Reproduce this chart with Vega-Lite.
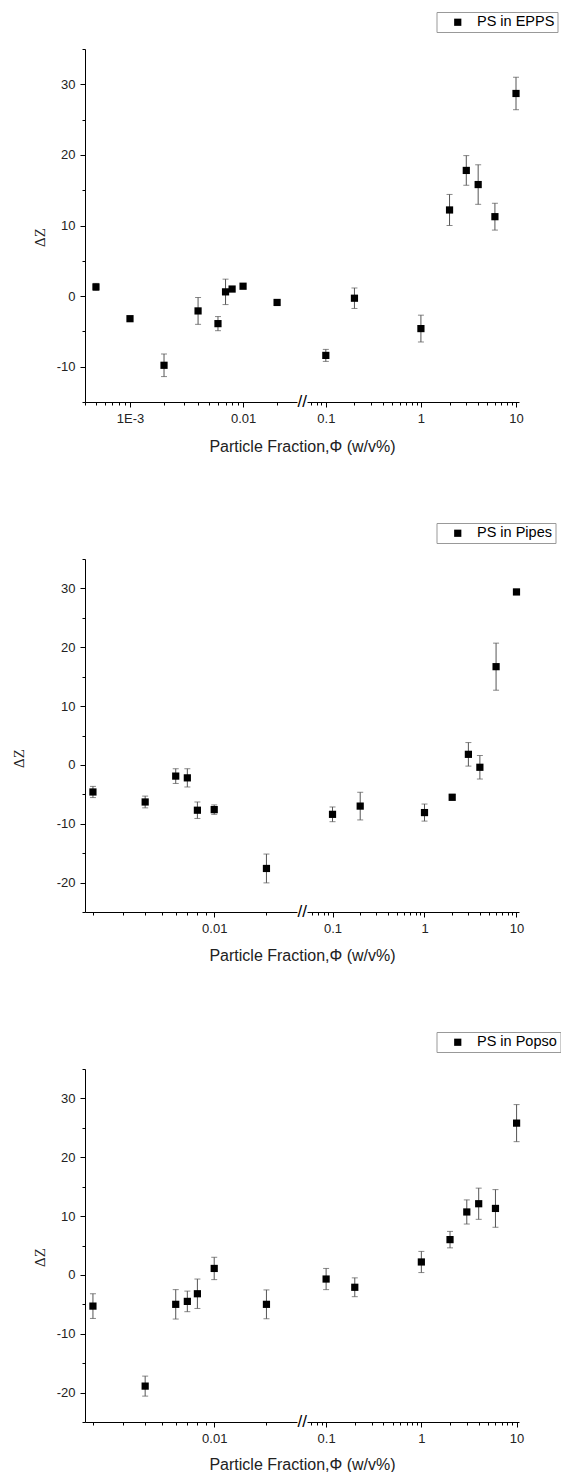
{
  "$schema": "https://vega.github.io/schema/vega-lite/v6.json",
  "autosize": {"type": "pad"},
  "padding": {"left": 11, "top": 11, "right": 0, "bottom": 0},
  "background": "white",
  "config": {
    "view": {"stroke": null},
    "font": "Liberation Sans",
    "axis": {
      "domainColor": "black", "domainWidth": 1, "tickColor": "black", "tickWidth": 1,
      "labelFont": "Liberation Sans", "labelFontSize": 13, "labelColor": "#222",
      "labelPadding": 5, "labelFlush": false, "labelOverlap": false, "grid": false,
      "titleFont": "Liberation Sans", "titleFontWeight": "normal", "titleColor": "#222"
    }
  },
  "datasets": {
    "epps_lo": [
      {"phi": 0.0005, "dz": 1.3, "err": 0.5},
      {"phi": 0.001, "dz": -3.2, "err": 0.3},
      {"phi": 0.002, "dz": -9.8, "err": 1.6},
      {"phi": 0.004, "dz": -2.1, "err": 1.9},
      {"phi": 0.006, "dz": -3.9, "err": 1.0},
      {"phi": 0.007, "dz": 0.6, "err": 1.8},
      {"phi": 0.008, "dz": 1.0, "err": 0.3},
      {"phi": 0.01, "dz": 1.4, "err": 0.3},
      {"phi": 0.02, "dz": -0.9, "err": 0.3}
    ],
    "epps_hi": [
      {"phi": 0.1, "dz": -8.4, "err": 0.85, "series": "PS in EPPS"},
      {"phi": 0.2, "dz": -0.3, "err": 1.45, "series": "PS in EPPS"},
      {"phi": 1, "dz": -4.6, "err": 1.9, "series": "PS in EPPS"},
      {"phi": 2, "dz": 12.2, "err": 2.2, "series": "PS in EPPS"},
      {"phi": 3, "dz": 17.8, "err": 2.1, "series": "PS in EPPS"},
      {"phi": 4, "dz": 15.8, "err": 2.8, "series": "PS in EPPS"},
      {"phi": 6, "dz": 11.25, "err": 1.9, "series": "PS in EPPS"},
      {"phi": 10, "dz": 28.7, "err": 2.3, "series": "PS in EPPS"}
    ],
    "pipes_lo": [
      {"phi": 0.002, "dz": -4.6, "err": 0.95},
      {"phi": 0.004, "dz": -6.3, "err": 1.0},
      {"phi": 0.006, "dz": -1.9, "err": 1.25},
      {"phi": 0.007, "dz": -2.2, "err": 1.55},
      {"phi": 0.008, "dz": -7.7, "err": 1.4},
      {"phi": 0.01, "dz": -7.6, "err": 0.8},
      {"phi": 0.02, "dz": -17.6, "err": 2.45}
    ],
    "pipes_hi": [
      {"phi": 0.1, "dz": -8.4, "err": 1.25, "series": "PS in Pipes"},
      {"phi": 0.2, "dz": -7.0, "err": 2.35, "series": "PS in Pipes"},
      {"phi": 1, "dz": -8.1, "err": 1.45, "series": "PS in Pipes"},
      {"phi": 2, "dz": -5.5, "err": 0.5, "series": "PS in Pipes"},
      {"phi": 3, "dz": 1.8, "err": 2.0, "series": "PS in Pipes"},
      {"phi": 4, "dz": -0.4, "err": 2.0, "series": "PS in Pipes"},
      {"phi": 6, "dz": 16.7, "err": 4.0, "series": "PS in Pipes"},
      {"phi": 10, "dz": 29.4, "err": 0.45, "series": "PS in Pipes"}
    ],
    "popso_lo": [
      {"phi": 0.002, "dz": -5.3, "err": 2.1},
      {"phi": 0.004, "dz": -18.9, "err": 1.7},
      {"phi": 0.006, "dz": -5.0, "err": 2.5},
      {"phi": 0.007, "dz": -4.5, "err": 1.75},
      {"phi": 0.008, "dz": -3.2, "err": 2.5},
      {"phi": 0.01, "dz": 1.1, "err": 1.9},
      {"phi": 0.02, "dz": -5.0, "err": 2.45}
    ],
    "popso_hi": [
      {"phi": 0.1, "dz": -0.7, "err": 1.8, "series": "PS in Popso"},
      {"phi": 0.2, "dz": -2.1, "err": 1.6, "series": "PS in Popso"},
      {"phi": 1, "dz": 2.2, "err": 1.8, "series": "PS in Popso"},
      {"phi": 2, "dz": 6.0, "err": 1.4, "series": "PS in Popso"},
      {"phi": 3, "dz": 10.7, "err": 2.05, "series": "PS in Popso"},
      {"phi": 4, "dz": 12.1, "err": 2.65, "series": "PS in Popso"},
      {"phi": 6, "dz": 11.3, "err": 3.2, "series": "PS in Popso"},
      {"phi": 10, "dz": 25.8, "err": 3.15, "series": "PS in Popso"}
    ]
  },
  "spacing": 510,
  "bounds": "flush",
  "resolve": {"scale": {"x": "independent", "y": "independent", "shape": "independent"}, "legend": {"shape": "independent"}},
  "vconcat": [
    {
      "spacing": 10,
      "bounds": "flush",
      "resolve": {"scale": {"x": "independent", "y": "independent", "shape": "independent"}, "legend": {"shape": "independent"}},
      "hconcat": [
        {
          "width": 212, "height": 353,
          "data": {"name": "epps_lo"},
          "encoding": {
            "x": {"field": "phi", "type": "quantitative",
              "scale": {"type": "log", "domain": [0.0004, 0.03], "nice": false},
              "axis": {"values": [0.0004,0.0005,0.0006,0.0007,0.0008,0.0009,0.001,0.002,0.003,0.004,0.005,0.006,0.007,0.008,0.009,0.01,0.02],
                "labelExpr": "datum.value === 0.001 ? '1E-3' : datum.value === 0.01 ? '0.01' : ''",
                "tickSize": {"condition": {"test": "datum.value === 0.001 || datum.value === 0.01", "value": 5}, "value": 3},
                "title": "Particle Fraction,Φ (w/v%)", "titleFontSize": 16, "titleX": 217, "titleY": 49, "titleAlign": "center", "titleBaseline": "alphabetic", "titleAnchor": null}},
            "y": {"field": "dz", "type": "quantitative",
              "scale": {"domain": [-15, 35], "nice": false, "zero": false},
              "axis": {"values": [-15,-10,-5,0,5,10,15,20,25,30,35],
                "labelExpr": "datum.value % 10 === 0 ? '' + datum.value : ''",
                "tickSize": {"condition": {"test": "datum.value % 10 === 0", "value": 5}, "value": 3},
                "title": "ΔZ", "titleFont": "Liberation Serif", "titleFontSize": 15, "titleX": -46, "titleY": 188, "titleBaseline": "middle", "titleAlign": "center"}}
          },
          "layer": [
            {"mark": {"type": "errorbar", "color": "#555", "thickness": 1, "ticks": {"size": 6, "color": "#555"}},
             "encoding": {"yError": {"field": "err"}}},
            {"mark": {"type": "point", "shape": "square", "filled": true, "size": 52, "color": "black", "opacity": 1}}
          ]
        },
        {
          "width": 212, "height": 353,
          "layer": [
            {"data": {"name": "epps_hi"},
             "mark": {"type": "errorbar", "color": "#555", "thickness": 1, "ticks": {"size": 6, "color": "#555"}},
             "encoding": {
               "x": {"field": "phi", "type": "quantitative", "scale": {"type": "log", "domain": [0.0634, 10.75], "nice": false},
                 "axis": {"values": [0.07,0.08,0.09,0.1,0.2,0.3,0.4,0.5,0.6,0.7,0.8,0.9,1,2,3,4,5,6,7,8,9,10],
                   "labelExpr": "datum.value === 0.1 ? '0.1' : datum.value === 1 ? '1' : datum.value === 10 ? '10' : ''",
                   "tickSize": {"condition": {"test": "datum.value === 0.1 || datum.value === 1 || datum.value === 10", "value": 5}, "value": 3},
                   "title": null}},
               "y": {"field": "dz", "type": "quantitative", "scale": {"domain": [-15, 35], "nice": false, "zero": false}, "axis": null},
               "yError": {"field": "err"}}},
            {"data": {"name": "epps_hi"},
             "mark": {"type": "point", "shape": "square", "filled": true, "size": 52, "color": "black", "opacity": 1},
             "encoding": {
               "x": {"field": "phi", "type": "quantitative"},
               "y": {"field": "dz", "type": "quantitative"},
               "shape": {"field": "series", "type": "nominal", "scale": {"range": ["square"]},
                 "legend": {"orient": "none", "legendX": 129.5, "legendY": -37, "title": null, "strokeColor": "#999", "fillColor": "white", "padding": 3,
                   "symbolOffset": 11, "labelOffset": 12, "symbolSize": 52, "symbolType": "square", "symbolFillColor": "black", "symbolStrokeWidth": 0,
                   "labelFont": "Liberation Sans", "labelFontSize": 14.5, "labelColor": "black"}}}},
            {"data": {"values": [{"s": "//"}]},
             "mark": {"type": "text", "fontSize": 17, "align": "right", "baseline": "middle", "color": "black"},
             "encoding": {"x": {"datum": 0.0634}, "y": {"datum": -15}, "text": {"field": "s"}}}
          ]
        }
      ]
    },
    {
      "spacing": 10,
      "bounds": "flush",
      "resolve": {"scale": {"x": "independent", "y": "independent", "shape": "independent"}, "legend": {"shape": "independent"}},
      "hconcat": [
        {
          "width": 212, "height": 353,
          "data": {"name": "pipes_lo"},
          "encoding": {
            "x": {"field": "phi", "type": "quantitative",
              "scale": {"type": "log", "domain": [0.0018, 0.03], "nice": false},
              "axis": {"values": [0.002,0.003,0.004,0.005,0.006,0.007,0.008,0.009,0.01,0.02],
                "labelExpr": "datum.value === 0.01 ? '0.01' : ''",
                "tickSize": {"condition": {"test": "datum.value === 0.01", "value": 5}, "value": 3},
                "title": "Particle Fraction,Φ (w/v%)", "titleFontSize": 16, "titleX": 217, "titleY": 48, "titleAlign": "center", "titleBaseline": "alphabetic", "titleAnchor": null}},
            "y": {"field": "dz", "type": "quantitative",
              "scale": {"domain": [-25, 35], "nice": false, "zero": false},
              "axis": {"values": [-25,-20,-15,-10,-5,0,5,10,15,20,25,30,35],
                "labelExpr": "datum.value % 10 === 0 ? '' + datum.value : ''",
                "tickSize": {"condition": {"test": "datum.value % 10 === 0", "value": 5}, "value": 3},
                "title": "ΔZ", "titleFont": "Liberation Serif", "titleFontSize": 15, "titleX": -67, "titleY": 199, "titleBaseline": "middle", "titleAlign": "center"}}
          },
          "layer": [
            {"mark": {"type": "errorbar", "color": "#555", "thickness": 1, "ticks": {"size": 6, "color": "#555"}},
             "encoding": {"yError": {"field": "err"}}},
            {"mark": {"type": "point", "shape": "square", "filled": true, "size": 52, "color": "black", "opacity": 1}}
          ]
        },
        {
          "width": 212, "height": 353,
          "layer": [
            {"data": {"name": "pipes_hi"},
             "mark": {"type": "errorbar", "color": "#555", "thickness": 1, "ticks": {"size": 6, "color": "#555"}},
             "encoding": {
               "x": {"field": "phi", "type": "quantitative", "scale": {"type": "log", "domain": [0.0528, 10.65], "nice": false},
                 "axis": {"values": [0.06,0.07,0.08,0.09,0.1,0.2,0.3,0.4,0.5,0.6,0.7,0.8,0.9,1,2,3,4,5,6,7,8,9,10],
                   "labelExpr": "datum.value === 0.1 ? '0.1' : datum.value === 1 ? '1' : datum.value === 10 ? '10' : ''",
                   "tickSize": {"condition": {"test": "datum.value === 0.1 || datum.value === 1 || datum.value === 10", "value": 5}, "value": 3},
                   "title": null}},
               "y": {"field": "dz", "type": "quantitative", "scale": {"domain": [-25, 35], "nice": false, "zero": false}, "axis": null},
               "yError": {"field": "err"}}},
            {"data": {"name": "pipes_hi"},
             "mark": {"type": "point", "shape": "square", "filled": true, "size": 52, "color": "black", "opacity": 1},
             "encoding": {
               "x": {"field": "phi", "type": "quantitative"},
               "y": {"field": "dz", "type": "quantitative"},
               "shape": {"field": "series", "type": "nominal", "scale": {"range": ["square"]},
                 "legend": {"orient": "none", "legendX": 129.5, "legendY": -36, "title": null, "strokeColor": "#999", "fillColor": "white", "padding": 3,
                   "symbolOffset": 11, "labelOffset": 12, "symbolSize": 52, "symbolType": "square", "symbolFillColor": "black", "symbolStrokeWidth": 0,
                   "labelFont": "Liberation Sans", "labelFontSize": 14.5, "labelColor": "black"}}}},
            {"data": {"values": [{"s": "//"}]},
             "mark": {"type": "text", "fontSize": 17, "align": "right", "baseline": "middle", "color": "black"},
             "encoding": {"x": {"datum": 0.0528}, "y": {"datum": -25}, "text": {"field": "s"}}}
          ]
        }
      ]
    },
    {
      "spacing": 10,
      "bounds": "flush",
      "resolve": {"scale": {"x": "independent", "y": "independent", "shape": "independent"}, "legend": {"shape": "independent"}},
      "hconcat": [
        {
          "width": 212, "height": 353,
          "data": {"name": "popso_lo"},
          "encoding": {
            "x": {"field": "phi", "type": "quantitative",
              "scale": {"type": "log", "domain": [0.0018, 0.03], "nice": false},
              "axis": {"values": [0.002,0.003,0.004,0.005,0.006,0.007,0.008,0.009,0.01,0.02],
                "labelExpr": "datum.value === 0.01 ? '0.01' : ''",
                "tickSize": {"condition": {"test": "datum.value === 0.01", "value": 5}, "value": 3},
                "title": "Particle Fraction,Φ (w/v%)", "titleFontSize": 16, "titleX": 217, "titleY": 47, "titleAlign": "center", "titleBaseline": "alphabetic", "titleAnchor": null}},
            "y": {"field": "dz", "type": "quantitative",
              "scale": {"domain": [-25, 35], "nice": false, "zero": false},
              "axis": {"values": [-25,-20,-15,-10,-5,0,5,10,15,20,25,30,35],
                "labelExpr": "datum.value % 10 === 0 ? '' + datum.value : ''",
                "tickSize": {"condition": {"test": "datum.value % 10 === 0", "value": 5}, "value": 3},
                "title": "ΔZ", "titleFont": "Liberation Serif", "titleFontSize": 15, "titleX": -46, "titleY": 188, "titleBaseline": "middle", "titleAlign": "center"}}
          },
          "layer": [
            {"mark": {"type": "errorbar", "color": "#555", "thickness": 1, "ticks": {"size": 6, "color": "#555"}},
             "encoding": {"yError": {"field": "err"}}},
            {"mark": {"type": "point", "shape": "square", "filled": true, "size": 52, "color": "black", "opacity": 1}}
          ]
        },
        {
          "width": 212, "height": 353,
          "layer": [
            {"data": {"name": "popso_hi"},
             "mark": {"type": "errorbar", "color": "#555", "thickness": 1, "ticks": {"size": 6, "color": "#555"}},
             "encoding": {
               "x": {"field": "phi", "type": "quantitative", "scale": {"type": "log", "domain": [0.063, 10.6], "nice": false},
                 "axis": {"values": [0.07,0.08,0.09,0.1,0.2,0.3,0.4,0.5,0.6,0.7,0.8,0.9,1,2,3,4,5,6,7,8,9,10],
                   "labelExpr": "datum.value === 0.1 ? '0.1' : datum.value === 1 ? '1' : datum.value === 10 ? '10' : ''",
                   "tickSize": {"condition": {"test": "datum.value === 0.1 || datum.value === 1 || datum.value === 10", "value": 5}, "value": 3},
                   "title": null}},
               "y": {"field": "dz", "type": "quantitative", "scale": {"domain": [-25, 35], "nice": false, "zero": false}, "axis": null},
               "yError": {"field": "err"}}},
            {"data": {"name": "popso_hi"},
             "mark": {"type": "point", "shape": "square", "filled": true, "size": 52, "color": "black", "opacity": 1},
             "encoding": {
               "x": {"field": "phi", "type": "quantitative"},
               "y": {"field": "dz", "type": "quantitative"},
               "shape": {"field": "series", "type": "nominal", "scale": {"range": ["square"]},
                 "legend": {"orient": "none", "legendX": 129.5, "legendY": -37, "title": null, "strokeColor": "#999", "fillColor": "white", "padding": 3,
                   "symbolOffset": 11, "labelOffset": 12, "symbolSize": 52, "symbolType": "square", "symbolFillColor": "black", "symbolStrokeWidth": 0,
                   "labelFont": "Liberation Sans", "labelFontSize": 14.5, "labelColor": "black"}}}},
            {"data": {"values": [{"s": "//"}]},
             "mark": {"type": "text", "fontSize": 17, "align": "right", "baseline": "middle", "color": "black"},
             "encoding": {"x": {"datum": 0.063}, "y": {"datum": -25}, "text": {"field": "s"}}}
          ]
        }
      ]
    }
  ]
}
